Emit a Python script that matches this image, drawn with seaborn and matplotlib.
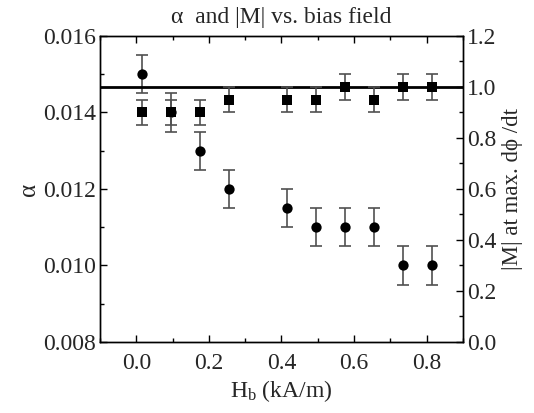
import numpy as np
import pandas as pd
import matplotlib
matplotlib.use("Agg")
import matplotlib.pyplot as plt
from matplotlib.ticker import MultipleLocator
import seaborn as sns

# bias field (kA/m)
h_bias = [0.015, 0.095, 0.175, 0.255, 0.415, 0.495, 0.575, 0.655, 0.735, 0.815]
# damping alpha and its error
alpha = [0.015, 0.014, 0.013, 0.012, 0.0115, 0.011, 0.011, 0.011, 0.010, 0.010]
alpha_err = [0.0005] * 10
# |M| at max dphi/dt and its error
m_abs = [0.9, 0.9, 0.9, 0.95, 0.95, 0.95, 1.0, 0.95, 1.0, 1.0]
m_err = [0.05] * 10
m_ref = 1.0

df = pd.DataFrame({"H": h_bias, "alpha": alpha, "alpha_err": alpha_err,
                   "M": m_abs, "M_err": m_err})

sns.set_theme(style="ticks")
plt.rcParams["font.family"] = ["Liberation Serif", "DejaVu Serif"]
plt.rcParams["mathtext.fontset"] = "custom"
plt.rcParams["mathtext.rm"] = "Liberation Serif"
plt.rcParams["mathtext.it"] = "Liberation Serif:italic"

fig = plt.figure(figsize=(5.34, 4.13), dpi=100)
ax = fig.add_axes([0.1873, 0.172, 0.6797, 0.741])
ax2 = ax.twinx()

err_col = "#505050"
ax.errorbar(df["H"], df["alpha"], yerr=df["alpha_err"], fmt="none",
            ecolor=err_col, elinewidth=1.2, capsize=4.5, capthick=1.2, zorder=2)
sns.scatterplot(data=df, x="H", y="alpha", ax=ax, marker="o", s=55,
                color="black", edgecolor="black", linewidth=0, zorder=3)

ax2.axhline(m_ref, color="black", lw=2, zorder=1)
ax2.errorbar(df["H"], df["M"], yerr=df["M_err"], fmt="none",
             ecolor=err_col, elinewidth=1.2, capsize=4.5, capthick=1.2, zorder=2)
sns.scatterplot(data=df, x="H", y="M", ax=ax2, marker="s", s=50,
                color="black", edgecolor="black", linewidth=0, zorder=3)

ax.set_xlim(-0.1, 0.9)
ax.set_ylim(0.008, 0.016)
ax2.set_ylim(0.0, 1.2)
ax.xaxis.set_major_locator(MultipleLocator(0.2))
ax.xaxis.set_minor_locator(MultipleLocator(0.1))
ax.yaxis.set_major_locator(MultipleLocator(0.002))
ax.yaxis.set_minor_locator(MultipleLocator(0.001))
ax2.yaxis.set_major_locator(MultipleLocator(0.2))
ax2.yaxis.set_minor_locator(MultipleLocator(0.1))
ax.xaxis.set_major_formatter(matplotlib.ticker.FormatStrFormatter("%.1f"))
ax.yaxis.set_major_formatter(matplotlib.ticker.FormatStrFormatter("%.3f"))
ax2.yaxis.set_major_formatter(matplotlib.ticker.FormatStrFormatter("%.1f"))

for a in (ax, ax2):
    for sp in a.spines.values():
        sp.set_linewidth(1.0)
        sp.set_color("black")
ax.tick_params(which="both", direction="in", top=True, labelsize=17,
               color="black", width=1.0, pad=3)
ax.tick_params(axis="x", which="major", pad=8)
ax.tick_params(which="major", length=5)
ax.tick_params(which="minor", length=3)
ax2.tick_params(which="both", direction="in", labelsize=17, color="black",
                width=1.0, pad=3)
ax2.tick_params(which="major", length=5)
ax2.tick_params(which="minor", length=3)

ax.set_xlabel("H$_\\mathrm{b}$ (kA/m)", fontsize=17, labelpad=3)
ax.set_ylabel("α", fontsize=18, labelpad=2)
ax2.set_ylabel("|M| at max. dϕ /dt", fontsize=16.5, labelpad=4)
ax.set_title("α  and |M| vs. bias field", fontsize=17, pad=9)

fig.savefig("out.png", dpi=100)
